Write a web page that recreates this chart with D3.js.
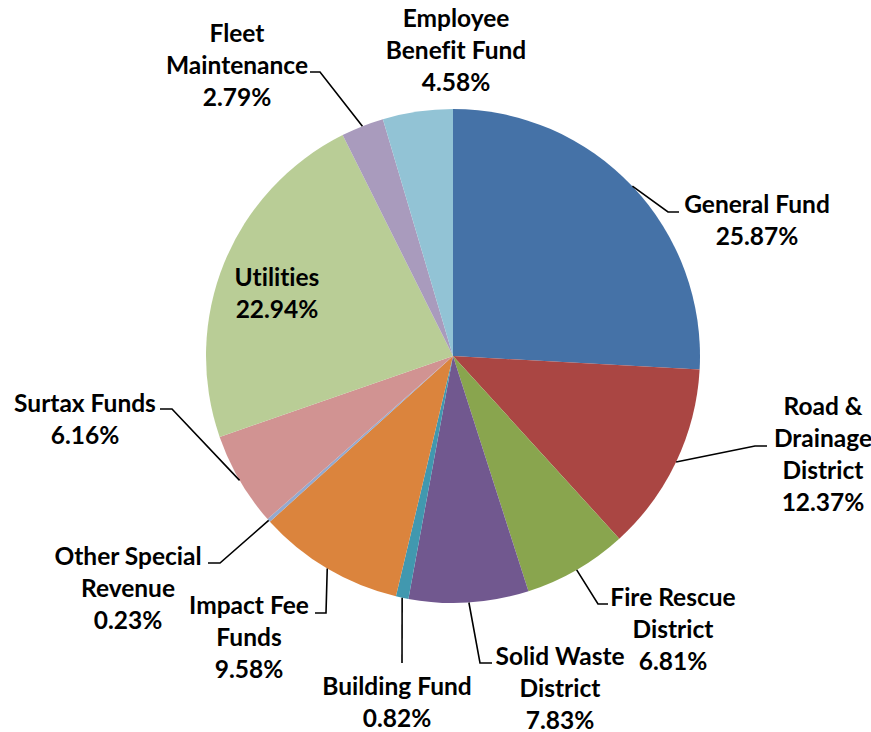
<!DOCTYPE html>
<html>
<head>
<meta charset="utf-8">
<script src="https://cdn.jsdelivr.net/npm/d3@7/dist/d3.min.js"></script>
<style>
  html, body { margin: 0; padding: 0; background: #ffffff; }
  svg text { font-family: Lato, "Open Sans", sans-serif; font-weight: 700; fill: #000;
             font-variant-ligatures: none; font-feature-settings: "liga" 0; }
</style>
</head>
<body>
<svg id="chart" width="871" height="732"></svg>
<script>
// Fund shares, clockwise from 12 o'clock
const funds = [
  "General Fund", "Road & Drainage District", "Fire Rescue District",
  "Solid Waste District", "Building Fund", "Impact Fee Funds",
  "Other Special Revenue", "Surtax Funds", "Utilities",
  "Fleet Maintenance", "Employee Benefit Fund"
];
const shares = [25.87, 12.37, 6.81, 7.83, 0.82, 9.58, 0.23, 6.16, 22.94, 2.79, 4.58];
const colors = [
  "#4572A7", "#AA4643", "#89A54E", "#71588F", "#4198AF", "#DB843D",
  "#93A9CF", "#D19392", "#B9CD96", "#A99BBD", "#92C3D5"
];
// Label text lines (the percentage is appended as the last line)
const labelLines = [
  ["General Fund"], ["Road &", "Drainage", "District"], ["Fire Rescue", "District"],
  ["Solid Waste", "District"], ["Building Fund"], ["Impact Fee", "Funds"],
  ["Other Special", "Revenue"], ["Surtax Funds"], ["Utilities"],
  ["Fleet", "Maintenance"], ["Employee", "Benefit Fund"]
];

const svg = d3.select("#chart");
const cx = 453, cy = 356, radius = 247;
const lineH = 32;

// Label placement: text centre x, first-line centre y, leader path points after the rim point
const layout = [
  { x: 757, y: 204, leader: [[668, 212], [679, 212]] },
  { x: 823, y: 406, leader: [[755, 446], [767, 446]] },
  { x: 673, y: 597, leader: [[598, 604], [608, 604]] },
  { x: 560, y: 656, leader: [[480, 663], [492, 663]] },
  { x: 397, y: 686, leader: [[402, 663]] },
  { x: 249, y: 605, leader: [[326, 613], [315, 613]] },
  { x: 128, y: 556, leader: [[220, 563], [208, 563]] },
  { x: 85,  y: 403, leader: [[172, 409], [160, 409]] },
  { x: 277, y: 277, leader: null },
  { x: 237, y: 33,  leader: [[320, 72], [310, 72]] },
  { x: 456, y: 18,  leader: null }
];

const data = funds.map((name, i) => ({ name, value: shares[i], color: colors[i], lines: labelLines[i], pos: layout[i] }));

const pie = d3.pie().sort(null).value(d => d.value).startAngle(0).endAngle(2 * Math.PI);
const arc = d3.arc().innerRadius(0).outerRadius(radius);
const arcs = pie(data);

const g = svg.append("g").attr("transform", `translate(${cx},${cy})`);

g.selectAll("path.slice")
  .data(arcs)
  .join("path")
  .attr("class", "slice")
  .attr("d", arc)
  .attr("fill", d => d.data.color);

// Leader lines: from the rim at each slice's mid-angle to its label
const line = d3.line();
arcs.forEach(d => {
  if (!d.data.pos.leader) return;
  const a = (d.startAngle + d.endAngle) / 2;
  const start = [cx + radius * Math.sin(a), cy - radius * Math.cos(a)];
  svg.append("path")
    .attr("d", line([start, ...d.data.pos.leader]))
    .attr("fill", "none")
    .attr("stroke", "#000")
    .attr("stroke-width", 1.6);
});

// Labels
const fmt = v => v.toFixed(2) + "%";
arcs.forEach(d => {
  const p = d.data.pos;
  const lines = [...d.data.lines, fmt(d.data.value)];
  const t = svg.append("text")
    .attr("text-anchor", "middle")
    .attr("font-size", 24.5);
  lines.forEach((s, k) => {
    t.append("tspan")
      .attr("x", p.x)
      .attr("y", p.y + k * lineH)
      .attr("dy", "0.35em")
      .text(s);
  });
});
</script>
</body>
</html>
